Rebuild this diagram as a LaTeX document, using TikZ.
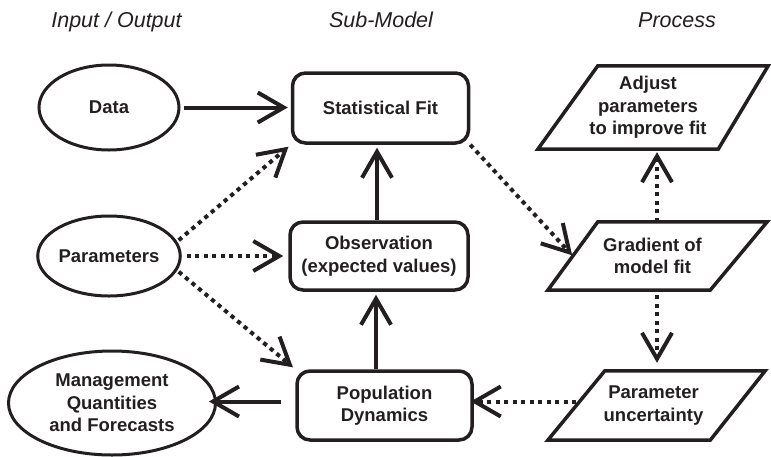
\documentclass[tikz,border=0pt]{standalone}
\usepackage{fontspec}
\setmainfont{Liberation Sans}
\usetikzlibrary{arrows.meta,shapes.geometric}
\definecolor{ink}{HTML}{231F20}
\begin{document}
\begin{tikzpicture}[x=1pt,y=-1pt,
  every node/.style={align=center, text=ink,
    font=\fontsize{18.5}{22.5}\selectfont\bfseries},
  header/.style={anchor=base, font=\fontsize{21.5}{25}\selectfont\itshape},
  io/.style={draw=ink, ellipse, line width=3pt, inner sep=0pt},
  model/.style={draw=ink, rounded corners=13pt, line width=3.5pt,
    minimum width=176pt, inner sep=0pt},
  proc/.style={inner sep=0pt},
  frame/.style={draw=ink, line width=3.5pt, line join=miter},
  edge/.style={draw=ink, line width=4pt,
    -{Straight Barb[length=26pt,width=30pt]}, shorten >=3pt},
  link/.style={edge, dash pattern=on 4.2pt off 4.3pt},
]
\useasboundingbox (0,0) rectangle (771,456);

% column headings
\node[header] (h1) at (116.5,27.5) {Input / Output};
\node[header] (h2) at (381,27.5) {Sub-Model};
\node[header] (h3) at (677,27.5) {Process};

% inputs and outputs
\node[io, minimum width=140pt, minimum height=85pt] (data) at (109,107.5) {Data};
\node[io, minimum width=140pt, minimum height=80pt] (param) at (109,256) {Parameters};
\node[io, minimum width=207pt, minimum height=104pt] (mgmt) at (112,403)
  {Management\\Quantities\\and Forecasts};

% sub-models
\node[model, minimum height=70pt] (stat) at (380.5,108) {Statistical Fit};
\node[model, minimum height=68pt, minimum width=178pt] (obs) at (379,256)
  {Observation\\(expected values)};
\node[model, minimum height=69pt, minimum width=175pt] (pop) at (384.5,405.5)
  {Population\\Dynamics};

% process steps (text boxes; outlines drawn below)
\node[proc, minimum width=160pt, minimum height=83pt] (adj) at (648,107.5)
  {Adjust\\parameters\\to improve fit};
\node[proc, minimum width=159pt, minimum height=68pt] (grad) at (652.5,256)
  {Gradient of\\model fit};
\node[proc, minimum width=154pt, minimum height=69pt] (unc) at (653.5,405.5)
  {Parameter\\uncertainty};

% parallelogram outlines: shifts of top-left, top-right, bottom-right, bottom-left
\foreach \n/\a/\b/\c/\d in {adj/30/40/-10/-30, grad/25/35/-22/-25, unc/28.5/34.5/-20.5/-28.5}
  \draw[frame] ([xshift=\a pt]\n.north west) -- ([xshift=\b pt]\n.north east)
    -- ([xshift=\c pt]\n.south east) -- ([xshift=\d pt]\n.south west) -- cycle;

% solid flows
\draw[edge, shorten <=3pt] (data.east) -- (data.east -| stat.west);
\draw[edge] ([xshift=-2pt]obs.north) -- ([xshift=-2pt]obs.north |- stat.south);
\draw[edge] ([xshift=-8.5pt]pop.north) -- ([xshift=-8.5pt]pop.north |- obs.south);
\draw[edge, shorten <=14pt, shorten >=-8pt] ([yshift=4pt]pop.west)
  -- ([yshift=4pt]pop.west -| mgmt.east);

% dotted flows
\draw[link, shorten <=2pt] (param.12) -- (stat.south west);
\draw[link, shorten <=5pt, shorten >=5pt] (param.east) -- (obs.west);
\draw[link, shorten <=2pt] (param.-12) -- (pop.north west);
\draw[link, shorten >=1pt] (stat.south east) -- (grad.west);
\draw[link] ([xshift=4.5pt]grad.north) -- ([xshift=4.5pt]grad.north |- adj.south);
\draw[link, shorten <=5pt, shorten >=8pt] ([xshift=4.5pt]grad.south)
  -- ([xshift=4.5pt]grad.south |- unc.north);
\draw[link, shorten >=-3pt] ([yshift=4pt]unc.west) -- ([yshift=4pt]unc.west -| pop.east);
\end{tikzpicture}
\end{document}
